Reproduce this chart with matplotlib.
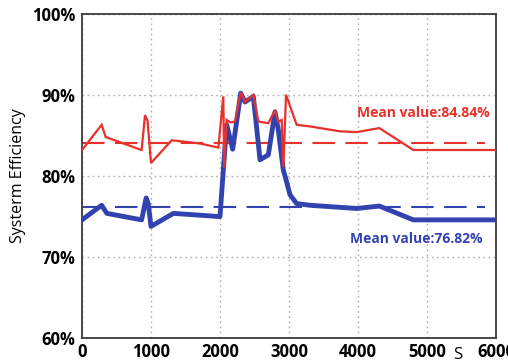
import numpy as np
import matplotlib.pyplot as plt

# time (s) and efficiency (%)
red_t = [0, 285, 343, 864, 913, 950, 1000, 1300, 1710, 1976, 2048, 2060, 2097,
         2150, 2217, 2300, 2362, 2483, 2556, 2700, 2797, 2845, 2894, 2918,
         2957, 3111, 3304, 3739, 3981, 4309, 4802, 6000]
red_eff = [83.2, 86.3, 84.8, 83.2, 87.5, 86.8, 81.6, 84.4, 84.0, 83.5, 89.8, 81.0, 86.9,
           86.6, 86.7, 90.3, 89.1, 90.0, 86.7, 86.5, 88.1, 86.7, 86.9, 81.1,
           90.0, 86.3, 86.1, 85.5, 85.4, 85.9, 83.2, 83.2]

blue_t = [0, 285, 360, 864, 930, 960, 1000, 1325, 2000, 2048, 2097, 2184, 2300,
          2362, 2483, 2580, 2700, 2797, 2845, 2918, 2946, 3014, 3111, 3304,
          3981, 4309, 4802, 6000]
blue_eff = [74.6, 76.4, 75.4, 74.6, 77.3, 76.6, 73.8, 75.4, 75.0, 80.7, 86.3, 83.3, 90.2,
            89.1, 89.8, 82.0, 82.6, 87.9, 85.7, 80.7, 79.9, 77.7, 76.6, 76.4,
            76.0, 76.3, 74.6, 74.6]

red_mean_line = 84.1
blue_mean_line = 76.2
red_label = 'Mean value:84.84%'
blue_label = 'Mean value:76.82%'

x_ticks = [0, 1000, 2000, 3000, 4000, 5000, 6000]
y_ticks = [60, 70, 80, 90, 100]

RED = '#e8312b'
BLUE = '#3243b0'

plt.rcParams['font.family'] = ['Open Sans', 'DejaVu Sans']

fig = plt.figure(figsize=(5.08, 3.63), dpi=100)
ax = fig.add_axes([0.1614, 0.0675, 0.815, 0.8953])

ax.plot(red_t, red_eff, color=RED, lw=1.6, solid_joinstyle='miter', zorder=4)
ax.plot(blue_t, blue_eff, color=BLUE, lw=3.5, zorder=3)

ax.plot([0, 5840], [red_mean_line] * 2, color=RED, lw=1.5, dashes=(10.8, 5.0), zorder=2)
ax.plot([0, 5840], [blue_mean_line] * 2, color=BLUE, lw=1.5, dashes=(10.8, 5.0), zorder=2)

ax.text(3980, 87.7, red_label, color=RED, fontsize=10, fontweight='bold', va='center')
ax.text(3880, 72.3, blue_label, color=BLUE, fontsize=10, fontweight='bold', va='center')

ax.set_xlim(0, 6000)
ax.set_ylim(60, 100)
ax.set_xticks(x_ticks)
ax.set_yticks(y_ticks)
ax.set_yticklabels(['%d%%' % v for v in y_ticks])
ax.tick_params(labelsize=12, length=0)
ax.tick_params(axis='x', pad=3)
ax.tick_params(axis='y', pad=5)
for lab in ax.get_xticklabels() + ax.get_yticklabels():
    lab.set_fontweight('bold')

ax.grid(True, color='#b0b0b0', linestyle=(0, (1.2, 2.5)), lw=1.0)
for s in ax.spines.values():
    s.set_color('#3a3a3a')
    s.set_linewidth(1.3)

ax.set_ylabel('Systerm Efficiency', fontsize=11.5, labelpad=4)
ax.text(5450, 58.0, 'S', fontsize=12, ha='center', va='center')

fig.savefig('out.png', dpi=100)
